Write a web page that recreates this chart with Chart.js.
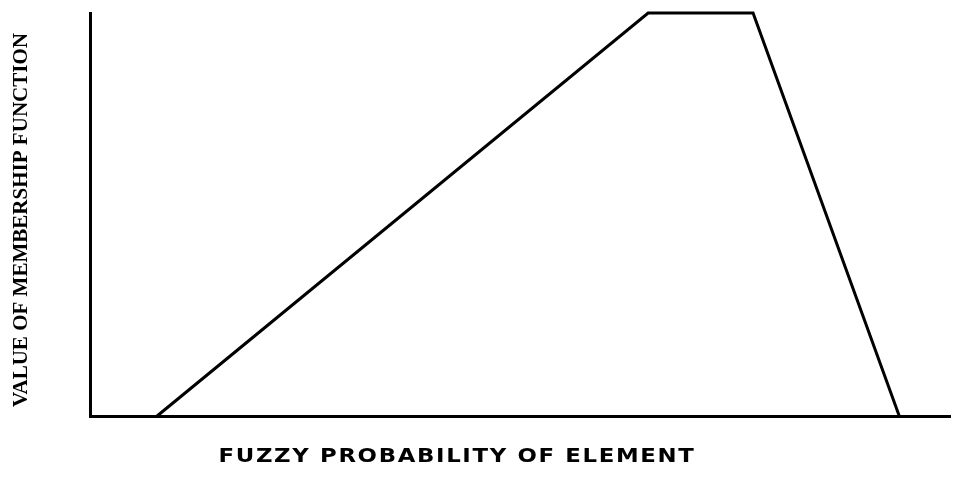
<!DOCTYPE html>
<html>
<head>
<meta charset="utf-8">
<script src="https://cdn.jsdelivr.net/npm/chart.js@4/dist/chart.umd.min.js"></script>
<style>
  body { margin: 0; background: #fff; }
  canvas { display: block; }
</style>
</head>
<body>
<canvas id="myChart" width="954" height="487"></canvas>
<script>
// membership function (trapezoid), x in % of the probability axis, y from 0 to 1
var probability = [7.8, 64.9, 77.1, 94.1];
var membership = [0, 1, 1, 0];
var xTitle = 'FUZZY PROBABILITY OF ELEMENT';
var yTitle = 'VALUE OF MEMBERSHIP FUNCTION';

var points = [];
for (var i = 0; i < probability.length; i++) {
    points.push({x: probability[i], y: membership[i]});
}

// titles drawn by hand so the spacing can match the old typewriter look
var titlePlugin = {
    id: 'oldTitles',
    afterDraw: function(chart) {
        var ctx = chart.ctx;
        ctx.save();
        ctx.fillStyle = '#000';
        ctx.textAlign = 'center';
        ctx.textBaseline = 'middle';

        // x title, wide glyphs and some letter spacing
        var sx = 1.2;
        var target = 477;
        ctx.font = 'bold 19px "DejaVu Sans"';
        var w0 = ctx.measureText(xTitle).width;
        ctx.save();
        ctx.translate(457, 457);
        ctx.scale(sx, 1);
        if ('letterSpacing' in ctx) {
            var gap = (target / sx - w0) / xTitle.length;
            ctx.letterSpacing = Math.max(0, gap) + 'px';
        }
        ctx.fillText(xTitle, 0, 0);
        ctx.restore();

        // y title, bold serif, rotated
        ctx.translate(21, 220);
        ctx.rotate(-Math.PI / 2);
        ctx.font = 'bold 22px "Liberation Serif"';
        ctx.fillText(yTitle, 0, 0, 374);
        ctx.restore();
    }
};

var ctx = document.getElementById('myChart');
var myChart = new Chart(ctx, {
    type: 'scatter',
    data: {
        datasets: [{
            data: points,
            showLine: true,
            borderColor: '#000',
            borderWidth: 3,
            pointRadius: 0,
            tension: 0,
            clip: false
        }]
    },
    options: {
        responsive: false,
        animation: false,
        devicePixelRatio: 1,
        layout: {
            padding: {left: 90, right: 4, top: 13, bottom: 71}
        },
        plugins: {
            legend: {display: false},
            tooltip: {enabled: false}
        },
        scales: {
            x: {
                type: 'linear',
                min: 0,
                max: 100,
                ticks: {display: false},
                grid: {display: false, drawTicks: false},
                border: {display: true, color: '#000', width: 3}
            },
            y: {
                min: 0,
                max: 1,
                ticks: {display: false},
                grid: {display: false, drawTicks: false},
                border: {display: true, color: '#000', width: 3}
            }
        }
    },
    plugins: [titlePlugin]
});
</script>
</body>
</html>
